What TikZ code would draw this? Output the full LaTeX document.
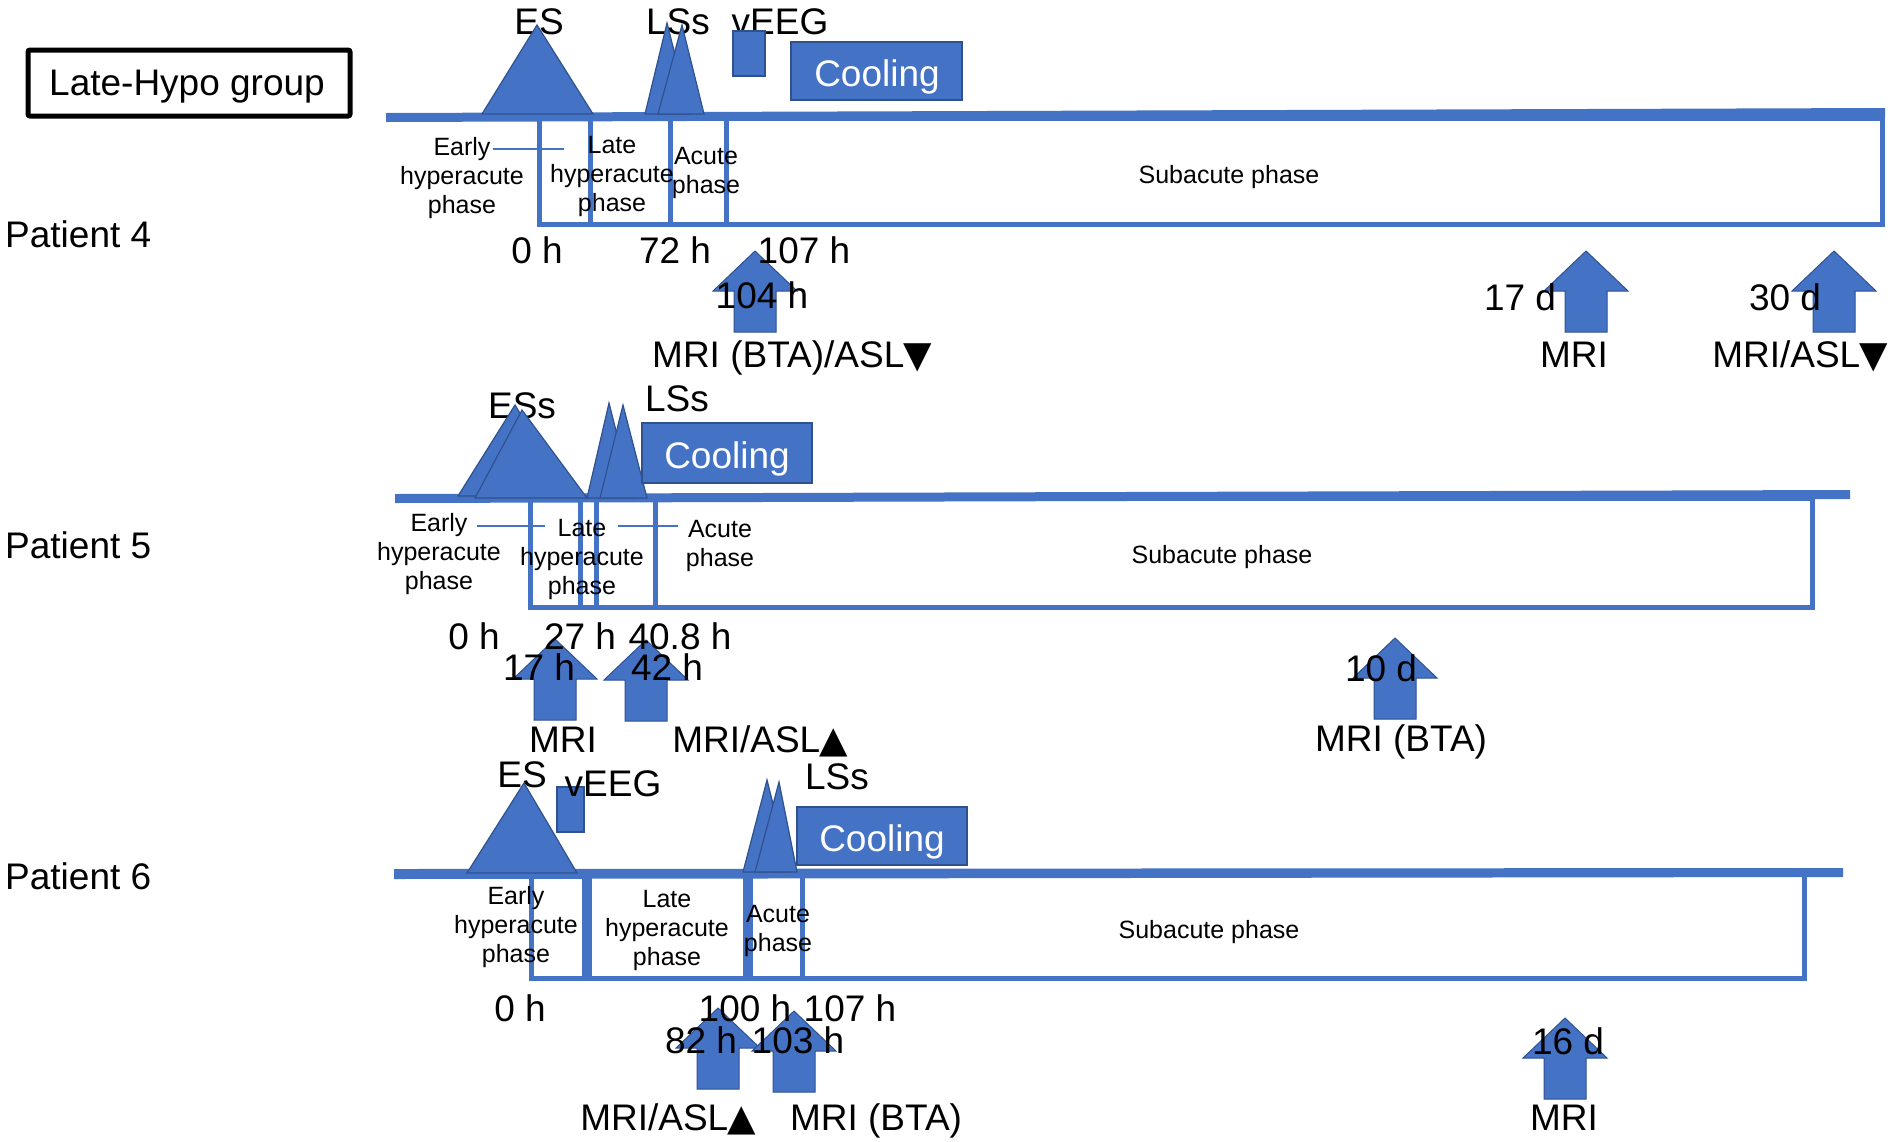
\documentclass[tikz,border=0pt]{standalone}
\usepackage{fontspec}
\setmainfont{Liberation Sans}
\newfontfamily\symfont{DejaVu Sans}
\definecolor{pblue}{HTML}{4472C4}
\definecolor{pdark}{HTML}{2F528F}
\tikzset{
  big/.style={font=\fontsize{37}{44}\selectfont, inner sep=0pt, anchor=base},
  small/.style={font=\fontsize{25}{29}\selectfont, inner sep=0pt, align=center},
  barshape/.style={fill=pblue},
  phasebox/.style={draw=pblue, line width=5pt},
  tri/.style={fill=pblue, draw=pdark, line width=1.2pt, line join=miter},
  eventrect/.style={fill=pblue, draw=pdark, line width=1.5pt},
  mriarrow/.style={fill=pblue, draw=pdark, line width=1pt},
  link/.style={draw=pblue, line width=2.5pt},
}
\newcommand{\mriup}[2]{\path[mriarrow] (#1,#2) -- ++(42,40) -- ++(-21,0) -- ++(0,41) -- ++(-42,0) -- ++(0,-41) -- ++(-21,0) -- cycle;}
\newcommand{\tridown}{{\symfont\kern-1pt ▼}}
\newcommand{\triup}{{\symfont\kern-1pt ▲}}
\begin{document}
\begin{tikzpicture}[x=1pt,y=-1pt]
\useasboundingbox (0,0) rectangle (1902,1141);
\fill[white] (0,0) rectangle (1902,1141);

% ---------- title ----------
\draw[line width=5pt, rounded corners=2pt] (28,50) rectangle (350,116);
\node[big] (title) at (187,95) {Late-Hypo group};

% ================= Patient 4 =================
\node[big, anchor=base west] (p4name) at (5,247) {Patient 4};
\node[big] (p4es) at (539,34) {ES};
\node[big] (p4lss) at (678,34) {LSs};
\node[big] (p4veegt) at (780,34) {vEEG};
\path[barshape] (386,113) -- (1885,108) -- (1885,117) -- (386,122) -- cycle;
\draw[phasebox] (539.5,118) rectangle (1882,224.5);
\draw[phasebox] (590.5,118) -- (590.5,224.5);
\draw[phasebox] (670,118) -- (670,224.5);
\draw[phasebox] (726,118) -- (726,224.5);
\path[tri] (537,25) -- (482,114) -- (593,114) -- cycle;
\path[tri] (667,23) -- (645,114) -- (690,114) -- cycle;
\path[tri] (682,25) -- (658,114) -- (704,114) -- cycle;
\path[eventrect] (733,31) rectangle (765,76);
\path[eventrect] (791,42) rectangle (962,100);
\node[big, text=white] (p4cool) at (877,86) {Cooling};
\node[small] (p4early) at (462,177.6) {Early\\hyperacute\\phase};
\node[small] (p4late) at (612,176) {Late\\hyperacute\\phase};
\node[small] (p4acute) at (706,172.6) {Acute\\phase};
\node[small, anchor=base] (p4sub) at (1229,183) {Subacute phase};
\coordinate (p4la) at (493,149); \coordinate (p4lb) at (564,149);
\draw[link] (p4la) -- (p4lb);
\mriup{755}{251}
\mriup{1586}{251}
\mriup{1834}{251}
\node[big] (p4t0) at (537,263) {0 h};
\node[big] (p4t72) at (675,263) {72 h};
\node[big] (p4t107) at (804,263) {107 h};
\node[big] (p4t104) at (762,308) {104 h};
\node[big] (p4t17) at (1520,310) {17 d};
\node[big] (p4t30) at (1785,310) {30 d};
\node[big] (p4m1) at (792,367) {MRI (BTA)/ASL\tridown};
\node[big] (p4m2) at (1574,367) {MRI};
\node[big] (p4m3) at (1800,367) {MRI/ASL\tridown};

% ================= Patient 5 =================
\node[big, anchor=base west] (p5name) at (5,558) {Patient 5};
\node[big] (p5ess) at (522,418) {ESs};
\node[big] (p5lss) at (677,411) {LSs};
\path[barshape] (395,494) -- (1850,490) -- (1850,499) -- (395,503) -- cycle;
\draw[phasebox] (530.5,498) rectangle (1812,607);
\draw[phasebox] (580.5,498) -- (580.5,607);
\draw[phasebox] (596,498) -- (596,607);
\draw[phasebox] (655,498) -- (655,607);
\path[tri] (515,405) -- (458,496) -- (570,496) -- cycle;
\path[tri] (522,410) -- (475,498) -- (587,498) -- cycle;
\path[tri] (609,403) -- (587,498) -- (633,498) -- cycle;
\path[tri] (623,405) -- (600,498) -- (647,498) -- cycle;
\path[eventrect] (642,423) rectangle (812,483);
\node[big, text=white] (p5cool) at (727,468) {Cooling};
\node[small] (p5early) at (439,553.6) {Early\\hyperacute\\phase};
\node[small] (p5late) at (582,559) {Late\\hyperacute\\phase};
\node[small] (p5acute) at (720,546) {Acute\\phase};
\node[small, anchor=base] (p5sub) at (1222,563) {Subacute phase};
\coordinate (p5la) at (477,526); \coordinate (p5lb) at (545,526);
\coordinate (p5lc) at (618,526); \coordinate (p5ld) at (678,526);
\draw[link] (p5la) -- (p5lb);
\draw[link] (p5lc) -- (p5ld);
\mriup{555}{639}
\mriup{646}{640}
\mriup{1395}{638}
\node[big] (p5t0) at (474,649) {0 h};
\node[big] (p5t27) at (580,649) {27 h};
\node[big] (p5t40) at (680,649) {40.8 h};
\node[big] (p5t17) at (539,680) {17 h};
\node[big] (p5t42) at (667,680) {42 h};
\node[big] (p5t10) at (1381,681) {10 d};
\node[big] (p5m1) at (563,752) {MRI};
\node[big] (p5m2) at (760,752) {MRI/ASL\triup};
\node[big] (p5m3) at (1401,751) {MRI (BTA)};

% ================= Patient 6 =================
\node[big, anchor=base west] (p6name) at (5,889) {Patient 6};
\path[barshape] (394,869) -- (1843,868) -- (1843,877) -- (394,879) -- cycle;
\draw[phasebox] (531,874) rectangle (1804,978);
\draw[phasebox] (584.5,874) -- (584.5,978);
\draw[phasebox] (589.5,874) -- (589.5,978);
\draw[phasebox] (745,874) -- (745,978);
\draw[phasebox] (750,874) -- (750,978);
\draw[phasebox] (802,874) -- (802,978);
\node[big] (p6es) at (522,787) {ES};
\node[big] (p6lss) at (837,789) {LSs};
\path[tri] (524,783) -- (467,873) -- (577,873) -- cycle;
\path[tri] (767,780) -- (743,872) -- (790,872) -- cycle;
\path[tri] (779,782) -- (755,872) -- (797,872) -- cycle;
\path[eventrect] (557,787) rectangle (584,832);
\node[big] (p6veegt) at (613,796) {vEEG};
\path[eventrect] (797,807) rectangle (967,865);
\node[big, text=white] (p6cool) at (882,851) {Cooling};
\node[small] (p6early) at (516,927) {Early\\hyperacute\\phase};
\node[small] (p6late) at (667,930) {Late\\hyperacute\\phase};
\node[small] (p6acute) at (778,930.6) {Acute\\phase};
\node[small, anchor=base] (p6sub) at (1209,938) {Subacute phase};
\mriup{718}{1008}
\mriup{794}{1011}
\mriup{1565}{1018}
\node[big] (p6t0) at (520,1021) {0 h};
\node[big] (p6t100) at (745,1021) {100 h};
\node[big] (p6t107) at (850,1021) {107 h};
\node[big] (p6t82) at (701,1053) {82 h};
\node[big] (p6t103) at (798,1053) {103 h};
\node[big] (p6t16) at (1568,1054) {16 d};
\node[big] (p6m1) at (668,1130) {MRI/ASL\triup};
\node[big] (p6m2) at (876,1130) {MRI (BTA)};
\node[big] (p6m3) at (1564,1130) {MRI};
\end{tikzpicture}
\end{document}
